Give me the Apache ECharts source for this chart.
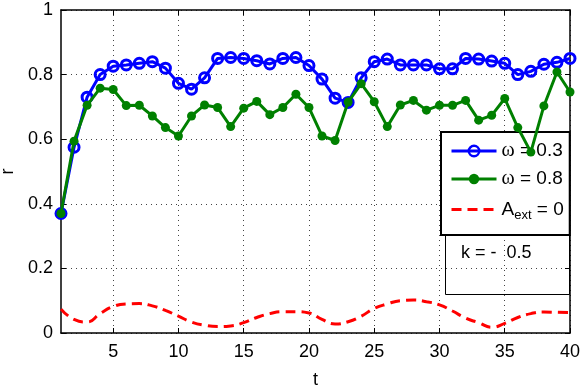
<!DOCTYPE html>
<html><head><meta charset="utf-8">
<script src="https://cdn.jsdelivr.net/npm/echarts@6/dist/echarts.min.js"></script>
<style>html,body{margin:0;padding:0;background:#fff}#c{width:581px;height:390px}</style>
</head><body><div id="c"></div>
<script>
const t = [1,2,3,4,5,6,7,8,9,10,11,12,13,14,15,16,17,18,19,20,21,22,23,24,25,26,27,28,29,30,31,32,33,34,35,36,37,38,39,40];
const omega03 = [0.37,0.575,0.73,0.80,0.826,0.83,0.835,0.84,0.82,0.773,0.755,0.79,0.85,0.853,0.85,0.843,0.833,0.85,0.853,0.828,0.786,0.727,0.714,0.79,0.84,0.848,0.83,0.83,0.83,0.818,0.818,0.85,0.848,0.842,0.835,0.80,0.81,0.832,0.838,0.85];
const omega08 = [0.37,0.594,0.705,0.758,0.754,0.704,0.705,0.672,0.636,0.61,0.672,0.706,0.698,0.639,0.696,0.717,0.676,0.698,0.739,0.698,0.61,0.596,0.715,0.772,0.716,0.639,0.706,0.72,0.69,0.705,0.705,0.72,0.659,0.674,0.726,0.636,0.56,0.703,0.808,0.746];
const aext0 = [0.074,0.042,0.034,0.06,0.082,0.09,0.091,0.084,0.07,0.052,0.034,0.024,0.02,0.022,0.032,0.048,0.06,0.066,0.066,0.062,0.042,0.028,0.035,0.052,0.076,0.09,0.1,0.102,0.097,0.087,0.068,0.046,0.032,0.018,0.03,0.048,0.06,0.065,0.064,0.063];
const xTicks = [5,10,15,20,25,30,35,40];
const yTicks = [0,0.2,0.4,0.6,0.8,1];
const seriesNames = ['ω = 0.3','ω = 0.8','A_ext = 0'];
const annotation = 'k = -  0.5';

const FONT = 'Liberation Sans';
const pairs = arr => t.map((x,i)=>[x, arr[i]]);
const chart = echarts.init(document.getElementById('c'), null, {renderer:'canvas'});
const axisLineStyle = {color:'#000', width:1.5};
const gridLine = {show:true, lineStyle:{color:'#444', width:1, type:[1,4]}};
const labelStyle = {color:'#000', fontSize:18, fontFamily:FONT};

chart.setOption({
  animation:false,
  backgroundColor:'#fff',
  grid:{left:61, right:11, top:10, bottom:57, containLabel:false, outerBoundsMode:'none'},
  xAxis:[
    {type:'value', min:1, max:40, position:'bottom',
     axisLine:{show:true, onZero:false, lineStyle:axisLineStyle},
     axisTick:{show:true, inside:true, length:5, customValues:xTicks, lineStyle:{color:'#000', width:1}},
     axisLabel:{show:true, customValues:xTicks, margin:10, ...labelStyle},
     splitLine:gridLine,
     name:'t', nameLocation:'middle', nameGap:38, nameTextStyle:{...labelStyle}},
    {type:'value', min:1, max:40, position:'top',
     axisLine:{show:true, onZero:false, lineStyle:axisLineStyle},
     axisTick:{show:true, inside:true, length:5, customValues:xTicks, lineStyle:{color:'#000', width:1}},
     axisLabel:{show:false}, splitLine:{show:false}}
  ],
  yAxis:[
    {type:'value', min:0, max:1, interval:0.2, position:'left',
     axisLine:{show:true, onZero:false, lineStyle:axisLineStyle},
     axisTick:{show:true, inside:true, length:5, lineStyle:{color:'#000', width:1}},
     axisLabel:{show:true, margin:8, ...labelStyle},
     splitLine:gridLine,
     name:'r', nameLocation:'middle', nameGap:41, nameTextStyle:{...labelStyle}},
    {type:'value', min:0, max:1, interval:0.2, position:'right',
     axisLine:{show:true, onZero:false, lineStyle:axisLineStyle},
     axisTick:{show:true, inside:true, length:5, lineStyle:{color:'#000', width:1}},
     axisLabel:{show:false}, splitLine:{show:false}}
  ],
  legend:{
    orient:'vertical', left:441, top:132,
    padding:[9,6,13,9], itemGap:8, itemWidth:45, itemHeight:13,
    backgroundColor:'#fff', borderColor:'#000', borderWidth:2, borderRadius:0,
    data:[
      {name:seriesNames[0], itemStyle:{borderWidth:2.5}, lineStyle:{width:3}},
      {name:seriesNames[1], lineStyle:{width:3}},
      {name:seriesNames[2], itemStyle:{opacity:0}, lineStyle:{width:3}}
    ],
    formatter: name => {
      if (name === 'A_ext = 0') return '{a|A}{s|ext}{a| = 0}';
      const parts = name.split(' = ');
      return '{w|ω}{a| = ' + parts[1] + '}';
    },
    textStyle:{color:'#000', fontSize:19, fontFamily:FONT,
      rich:{
        a:{fontSize:19, fontFamily:FONT, color:'#000', lineHeight:22},
        w:{fontSize:20, fontFamily:'Liberation Serif', color:'#000', lineHeight:22},
        s:{fontSize:13, fontFamily:FONT, color:'#000', lineHeight:22, padding:[12,0,0,0]}
      }}
  },
  graphic:[
    {type:'rect', left:443, top:233, z:5, shape:{width:124, height:59},
     style:{fill:null, stroke:'#000', lineWidth:1}},
    {type:'text', left:461, top:244, z:6,
     style:{text:annotation, fill:'#000', font:'18px "Liberation Sans"'}}
  ],
  series:[
    {name:seriesNames[0], type:'line', data:pairs(omega03), z:3,
     symbol:'circle', symbolSize:10, showSymbol:true,
     lineStyle:{color:'#0000ff', width:3},
     itemStyle:{color:'rgba(255,255,255,0)', borderColor:'#0000ff', borderWidth:3}},
    {name:seriesNames[1], type:'line', data:pairs(omega08), z:4,
     symbol:'circle', symbolSize:9,
     lineStyle:{color:'#008000', width:3},
     itemStyle:{color:'#008000'}},
    {name:seriesNames[2], type:'line', data:pairs(aext0), z:3,
     symbol:'none', smooth:true,
     lineStyle:{color:'#ff0000', width:3, type:[10,6]},
     itemStyle:{color:'#ff0000'}}
  ]
});
</script></body></html>
